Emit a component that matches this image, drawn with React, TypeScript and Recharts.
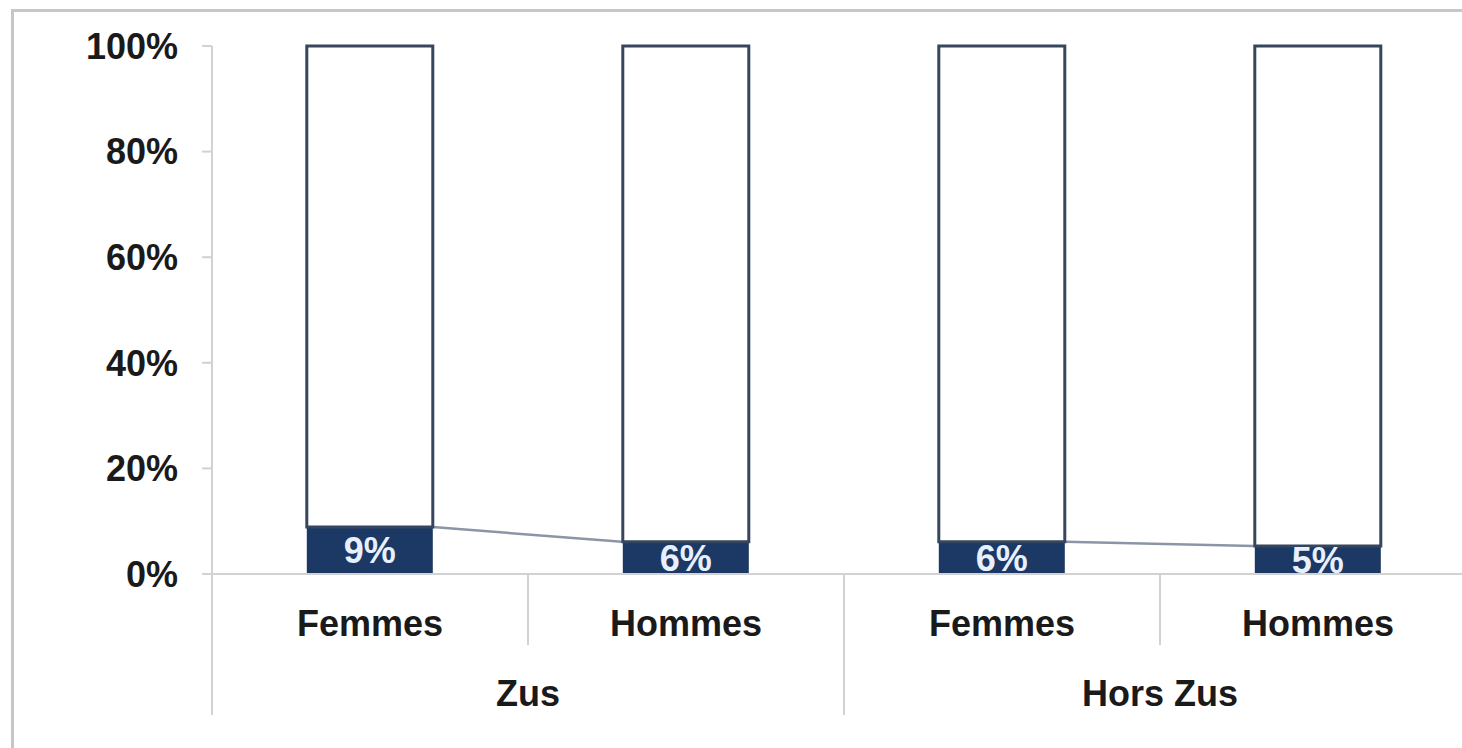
import { BarChart, Bar, XAxis, YAxis, LabelList } from 'recharts';

const sexes = ['Femmes', 'Hommes', 'Femmes', 'Hommes'];
const zones = ['Zus', 'Zus', 'Hors Zus', 'Hors Zus'];
const lowShare = [8.9, 6.1, 6.1, 5.3];
const restShare = [91.1, 93.9, 93.9, 94.7];
const yTicks = [0, 20, 40, 60, 80, 100];

const NAVY = '#1c3864';
const OUTLINE = '#36465f';
const AXIS = '#d2d2d2';
const FONT = '"Liberation Sans", Arial, sans-serif';

const data = sexes.map((s, i) => ({
    sexe: s,
    zone: zones[i],
    low: lowShare[i],
    rest: restShare[i],
}));

// bottom segment + the Excel-style "series line" towards the next bar of the group
const LowBar = (props: any) => {
    const { x, y, width, height, index } = props;
    const parts = [<rect key="r" x={x} y={y} width={width} height={height} fill={NAVY} />];
    if (index % 2 === 0 && index + 1 < lowShare.length) {
        const unit = height / lowShare[index];
        const base = y + height;
        const step = width / 0.4; // barCategoryGap 30% on each side
        const ny = base - lowShare[index + 1] * unit;
        parts.push(
            <line key="l" x1={x + width} y1={y} x2={x + step} y2={ny} stroke="#8a95a6" strokeWidth={2.5} />
        );
    }
    return <g>{parts}</g>;
};

const SexTick = (props: any) => {
    const { x, y, payload, index } = props;
    const half = payload.offset ?? 0;
    return (
        <g>
            <text x={x} y={y + 49} textAnchor="middle" dominantBaseline="central"
                fontFamily={FONT} fontSize={36} fontWeight="bold" fill="#1a1a1a">
                {payload.value}
            </text>
            {index % 2 === 1 && (
                <line x1={x - half} y1={y} x2={x - half} y2={y + 71} stroke={AXIS} strokeWidth={2} />
            )}
        </g>
    );
};

const ZoneTick = (props: any) => {
    const { x, y, payload } = props;
    const half = payload.offset ?? 0;
    return (
        <g>
            <text x={x} y={y + 49} textAnchor="middle" dominantBaseline="central"
                fontFamily={FONT} fontSize={36} fontWeight="bold" fill="#1a1a1a">
                {payload.value}
            </text>
            <line x1={x - half} y1={y - 70} x2={x - half} y2={y + 71} stroke={AXIS} strokeWidth={2} />
            <line x1={x + half} y1={y - 70} x2={x + half} y2={y + 71} stroke={AXIS} strokeWidth={2} />
        </g>
    );
};

export default function App() {
    return (
        <div style={{ position: 'absolute', left: 0, top: 0, width: 1462, height: 748, overflow: 'hidden', background: '#fff' }}>
            <div style={{ position: 'absolute', left: 11, top: 9, width: 1500, height: 800, border: '3px solid #c6c6c6', boxSizing: 'border-box' }} />
            <div style={{ position: 'absolute', left: 0, top: 0 }}>
                <BarChart
                    width={1490}
                    height={748}
                    data={data}
                    margin={{ top: 46, right: 14, bottom: 34, left: 0 }}
                    barCategoryGap="30%"
                >
                    <YAxis
                        width={212}
                        domain={[0, 100]}
                        ticks={yTicks}
                        tickFormatter={(v: number) => `${v}%`}
                        axisLine={{ stroke: AXIS, strokeWidth: 2 }}
                        tickLine={{ stroke: AXIS, strokeWidth: 2 }}
                        tickSize={10}
                        tickMargin={24}
                        tick={{ fontFamily: FONT, fontSize: 36, fontWeight: 'bold', fill: '#1a1a1a' }}
                    />
                    <XAxis
                        dataKey="sexe"
                        height={70}
                        axisLine={{ stroke: AXIS, strokeWidth: 2 }}
                        tickLine={false}
                        tickSize={0}
                        tickMargin={0}
                        interval={0}
                        tick={<SexTick />}
                    />
                    <XAxis
                        xAxisId="zone"
                        dataKey="zone"
                        allowDuplicatedCategory={false}
                        height={70}
                        axisLine={false}
                        tickLine={false}
                        tickSize={0}
                        tickMargin={0}
                        interval={0}
                        tick={<ZoneTick />}
                    />
                    <Bar dataKey="low" stackId="a" shape={<LowBar />} isAnimationActive={false}>
                        <LabelList
                            dataKey="low"
                            position="center"
                            formatter={(v: any) => `${Math.round(Number(v))}%`}
                            fill="#e8f0ff"
                            fontFamily={FONT}
                            fontSize={36}
                            fontWeight="bold"
                        />
                    </Bar>
                    <Bar dataKey="rest" stackId="a" fill="#ffffff" stroke={OUTLINE} strokeWidth={3} isAnimationActive={false} />
                </BarChart>
            </div>
        </div>
    );
}
